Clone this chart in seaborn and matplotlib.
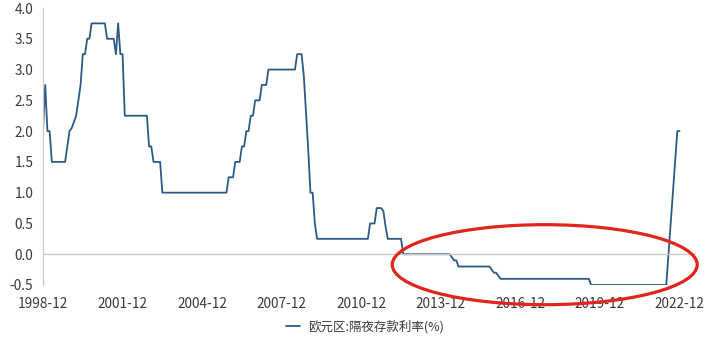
import numpy as np
import pandas as pd
import matplotlib
matplotlib.use("Agg")
import matplotlib.pyplot as plt
from matplotlib.patches import Ellipse
import seaborn as sns

# ---------------- data (monthly) ----------------
start_month = "1998-12"
rate_1998 = [2.0]
rate_1999 = [2.75, 2.0, 2.0, 1.5, 1.5, 1.5, 1.5, 1.5, 1.5, 1.5, 1.75, 2.0]
rate_2000 = [2.05, 2.15, 2.25, 2.5, 2.75, 3.25, 3.25, 3.5, 3.5, 3.75, 3.75, 3.75]
rate_2001 = [3.75, 3.75, 3.75, 3.75, 3.5, 3.5, 3.5, 3.5, 3.25, 3.75, 3.25, 3.25]
rate_2002 = [2.25, 2.25, 2.25, 2.25, 2.25, 2.25, 2.25, 2.25, 2.25, 2.25, 2.25, 1.75]
rate_2003 = [1.75, 1.5, 1.5, 1.5, 1.5, 1.0, 1.0, 1.0, 1.0, 1.0, 1.0, 1.0]
rate_2004 = [1.0, 1.0, 1.0, 1.0, 1.0, 1.0, 1.0, 1.0, 1.0, 1.0, 1.0, 1.0]
rate_2005 = [1.0, 1.0, 1.0, 1.0, 1.0, 1.0, 1.0, 1.0, 1.0, 1.0, 1.0, 1.25]
rate_2006 = [1.25, 1.25, 1.5, 1.5, 1.5, 1.75, 1.75, 2.0, 2.0, 2.25, 2.25, 2.5]
rate_2007 = [2.5, 2.5, 2.75, 2.75, 2.75, 3.0, 3.0, 3.0, 3.0, 3.0, 3.0, 3.0]
rate_2008 = [3.0, 3.0, 3.0, 3.0, 3.0, 3.0, 3.25, 3.25, 3.25, 2.9, 2.3, 1.7]
rate_2009 = [1.0, 1.0, 0.5, 0.25, 0.25, 0.25, 0.25, 0.25, 0.25, 0.25, 0.25, 0.25]
rate_2010 = [0.25, 0.25, 0.25, 0.25, 0.25, 0.25, 0.25, 0.25, 0.25, 0.25, 0.25, 0.25]
rate_2011 = [0.25, 0.25, 0.25, 0.5, 0.5, 0.5, 0.75, 0.75, 0.75, 0.7, 0.45, 0.25]
rate_2012 = [0.25, 0.25, 0.25, 0.25, 0.25, 0.25, 0.0, 0.0, 0.0, 0.0, 0.0, 0.0]
rate_2013 = [0.0, 0.0, 0.0, 0.0, 0.0, 0.0, 0.0, 0.0, 0.0, 0.0, 0.0, 0.0]
rate_2014 = [0.0, 0.0, 0.0, 0.0, -0.05, -0.1, -0.1, -0.2, -0.2, -0.2, -0.2, -0.2]
rate_2015 = [-0.2, -0.2, -0.2, -0.2, -0.2, -0.2, -0.2, -0.2, -0.2, -0.2, -0.25, -0.3]
rate_2016 = [-0.3, -0.35, -0.4, -0.4, -0.4, -0.4, -0.4, -0.4, -0.4, -0.4, -0.4, -0.4]
rate_2017 = [-0.4, -0.4, -0.4, -0.4, -0.4, -0.4, -0.4, -0.4, -0.4, -0.4, -0.4, -0.4]
rate_2018 = [-0.4, -0.4, -0.4, -0.4, -0.4, -0.4, -0.4, -0.4, -0.4, -0.4, -0.4, -0.4]
rate_2019 = [-0.4, -0.4, -0.4, -0.4, -0.4, -0.4, -0.4, -0.5, -0.5, -0.5, -0.5, -0.5]
rate_2020 = [-0.5, -0.5, -0.5, -0.5, -0.5, -0.5, -0.5, -0.5, -0.5, -0.5, -0.5, -0.5]
rate_2021 = [-0.5, -0.5, -0.5, -0.5, -0.5, -0.5, -0.5, -0.5, -0.5, -0.5, -0.5, -0.5]
rate_2022 = [-0.5, -0.5, -0.5, -0.5, -0.5, -0.5, 0.0, 0.5, 1.0, 1.5, 2.0, 2.0]

tick_labels = ["1998-12", "2001-12", "2004-12", "2007-12", "2010-12",
               "2013-12", "2016-12", "2019-12", "2022-12"]
y_ticks = [-0.5, 0.0, 0.5, 1.0, 1.5, 2.0, 2.5, 3.0, 3.5, 4.0]
series_name = "欧元区:隔夜存款利率(%)"

rates = (rate_1998 + rate_1999 + rate_2000 + rate_2001 + rate_2002 + rate_2003
         + rate_2004 + rate_2005 + rate_2006 + rate_2007 + rate_2008 + rate_2009
         + rate_2010 + rate_2011 + rate_2012 + rate_2013 + rate_2014 + rate_2015
         + rate_2016 + rate_2017 + rate_2018 + rate_2019 + rate_2020 + rate_2021
         + rate_2022)
months = pd.period_range(start_month, periods=len(rates), freq="M").strftime("%Y-%m")
df = pd.DataFrame({"month": months, "rate": rates})
df["pos"] = np.arange(len(df))
df["series"] = series_name

# ---------------- style ----------------
sns.set_theme(style="white")
plt.rcParams["font.family"] = ["Noto Sans CJK SC", "DejaVu Sans"]
plt.rcParams["axes.unicode_minus"] = False

line_color = "#2C5A87"
axis_color = "#C8C8C8"
text_color = "#3A3A3A"

fig = plt.figure(figsize=(7.2, 3.37), dpi=100)
ax = fig.add_axes([43 / 720, 1 - 285 / 337, (695 - 43) / 720, (285 - 8) / 337])

sns.lineplot(data=df, x="pos", y="rate", hue="series", palette=[line_color],
             linewidth=1.3, ax=ax, legend=True)

ax.set_xlim(0, 295)
ax.set_ylim(-0.5, 4.0)

tick_pos = [df.index[df["month"] == t][0] for t in tick_labels]
ax.set_xticks(tick_pos)
ax.set_xticklabels(tick_labels)
ax.set_yticks(y_ticks)
ax.set_yticklabels([f"{v:.1f}" for v in y_ticks])
ax.set_xlabel("")
ax.set_ylabel("")

for s in ["top", "right"]:
    ax.spines[s].set_visible(False)
ax.spines["left"].set_color(axis_color)
ax.spines["left"].set_linewidth(0.9)
ax.spines["bottom"].set_position(("data", 0))
ax.spines["bottom"].set_color(axis_color)
ax.spines["bottom"].set_linewidth(0.9)

ax.tick_params(axis="x", direction="out", length=2.5, width=0.8, color=axis_color,
               labelsize=9.8, labelcolor=text_color, pad=28)
ax.tick_params(axis="y", direction="out", length=3, width=0.8, color=axis_color,
               labelsize=9.8, labelcolor=text_color, pad=4)
ax.grid(False)

# legend at bottom centre
handles, labels = ax.get_legend_handles_labels()
ax.get_legend().remove()
fig.legend(handles, labels, loc="center", bbox_to_anchor=(0.507, 0.031),
           frameon=False, fontsize=9, handlelength=1.1, handletextpad=0.6,
           labelcolor=text_color)

# red hand-drawn ellipse highlighting the negative-rate period
ell = Ellipse(xy=(227, -0.17), width=138, height=1.30, fill=False,
              edgecolor="#E3241C", linewidth=2.3, clip_on=False, zorder=5)
ax.add_patch(ell)

fig.savefig("out.png", dpi=100)
